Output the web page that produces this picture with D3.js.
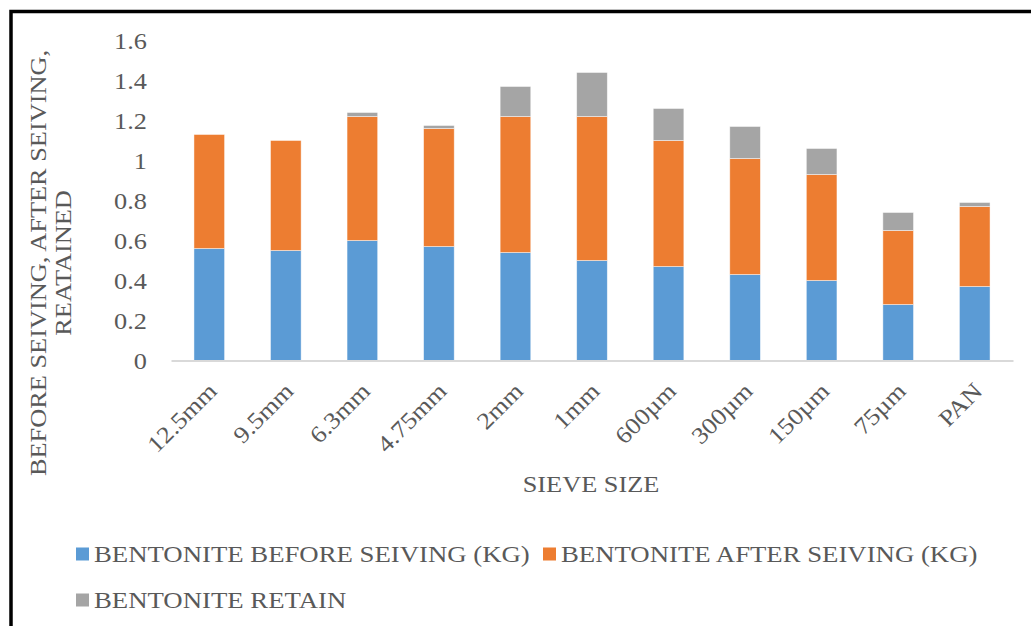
<!DOCTYPE html>
<html>
<head>
<meta charset="utf-8">
<script src="https://cdn.jsdelivr.net/npm/d3@7/dist/d3.min.js"></script>
<style>
  html, body { margin: 0; padding: 0; background: #fff; }
  svg { display: block; }
  text { font-family: "Liberation Serif", "Times New Roman", serif; fill: #595959; }
</style>
</head>
<body>
<svg id="chart" width="1031" height="626"></svg>
<script>
// Sieve sizes (x categories)
const sieveSizes = ["12.5mm", "9.5mm", "6.3mm", "4.75mm", "2mm", "1mm", "600µm", "300µm", "150µm", "75µm", "PAN"];

// Mass per sieve, kg
const beforeSeiving = [0.56, 0.55, 0.60, 0.57, 0.54, 0.50, 0.47, 0.43, 0.40, 0.28, 0.37];
const afterSeiving  = [0.57, 0.55, 0.62, 0.59, 0.68, 0.72, 0.63, 0.58, 0.53, 0.37, 0.40];
const retained      = [0.00, 0.00, 0.02, 0.015, 0.15, 0.22, 0.16, 0.16, 0.13, 0.09, 0.02];

const yTicks = [0, 0.2, 0.4, 0.6, 0.8, 1, 1.2, 1.4, 1.6];

const seriesNames = ["BENTONITE BEFORE SEIVING (KG)", "BENTONITE AFTER SEIVING (KG)", "BENTONITE RETAIN"];
const seriesColors = ["#5b9bd5", "#ed7d31", "#a5a5a5"];

const svg = d3.select("#chart");
const stretch = 1.12;   // the serif face here is drawn a little wide
const fontSize = "23.5px";

const rows = sieveSizes.map((s, i) => ({
  size: s, before: beforeSeiving[i], after: afterSeiving[i], retain: retained[i]
}));
const keys = ["before", "after", "retain"];
const stacked = d3.stack().keys(keys)(rows);

const x = d3.scaleBand()
  .domain(sieveSizes)
  .range([171, 1013])
  .paddingInner(0.6)
  .paddingOuter(0.3);

const y = d3.scaleLinear().domain([0, 1.6]).range([360.5, 40.5]);

// outer frame (open on the right and bottom)
svg.append("path")
  .attr("d", "M11,626 L11,11.5 L1031,11.5")
  .attr("fill", "none")
  .attr("stroke", "#000")
  .attr("stroke-width", 3.5);

// bars
svg.append("g").selectAll("g")
  .data(stacked)
  .join("g")
  .attr("fill", (d, i) => seriesColors[i])
  .selectAll("rect")
  .data(d => d)
  .join("rect")
  .attr("x", d => x(d.data.size))
  .attr("y", d => y(d[1]))
  .attr("width", x.bandwidth())
  .attr("height", d => y(d[0]) - y(d[1]))
  .attr("stroke", "#fff")
  .attr("stroke-opacity", d => (d[1] - d[0]) > 0 ? 0.6 : 0)
  .attr("stroke-width", 0.75);

// y axis labels
const yAxis = svg.append("g")
  .attr("transform", "translate(147,0)")
  .call(d3.axisLeft(y).tickValues(yTicks).tickSize(0).tickFormat(d3.format("~g")));
yAxis.select(".domain").remove();
yAxis.selectAll("text")
  .attr("x", 0)
  .attr("dy", "0.34em")
  .attr("transform", `scale(${stretch},1)`)
  .style("font-family", "'Liberation Serif', serif")
  .style("font-size", fontSize)
  .attr("fill", "#595959");

// x axis
const xAxis = svg.append("g")
  .attr("transform", `translate(0,${y(0)})`)
  .call(d3.axisBottom(x).tickSize(0).tickSizeOuter(0));
xAxis.select(".domain").attr("stroke", "#d9d9d9").attr("stroke-width", 2);
xAxis.selectAll("text")
  .attr("x", 0).attr("y", 0).attr("dy", 0)
  .attr("text-anchor", "end")
  .attr("transform", `translate(9,32) rotate(-45) scale(${stretch},1)`)
  .style("font-family", "'Liberation Serif', serif")
  .style("font-size", fontSize)
  .attr("fill", "#595959");

// axis titles
svg.append("text")
  .attr("text-anchor", "middle")
  .attr("transform", `translate(591,492) scale(${stretch},1)`)
  .style("font-size", fontSize)
  .text("SIEVE SIZE");

const yTitle = svg.append("text")
  .attr("text-anchor", "middle")
  .attr("transform", `translate(45.5,263) rotate(-90) scale(${stretch},1)`)
  .style("font-size", fontSize);
yTitle.append("tspan").attr("x", 0).attr("y", 0).text("BEFORE SEIVING, AFTER SEIVING,");
yTitle.append("tspan").attr("x", 0).attr("y", 26).text("REATAINED");

// legend
const legendItems = [
  { name: seriesNames[0], color: seriesColors[0], x: 76, y: 554 },
  { name: seriesNames[1], color: seriesColors[1], x: 543, y: 554 },
  { name: seriesNames[2], color: seriesColors[2], x: 76, y: 600 }
];
const legend = svg.append("g").selectAll("g")
  .data(legendItems)
  .join("g")
  .attr("transform", d => `translate(${d.x},${d.y})`);
legend.append("rect")
  .attr("x", 0).attr("y", -6.5)
  .attr("width", 13).attr("height", 13)
  .attr("fill", d => d.color);
legend.append("text")
  .attr("transform", `translate(18,0) scale(1.2,1)`)
  .attr("dy", "0.34em")
  .style("font-size", "22.3px")
  .text(d => d.name);
</script>
</body>
</html>
